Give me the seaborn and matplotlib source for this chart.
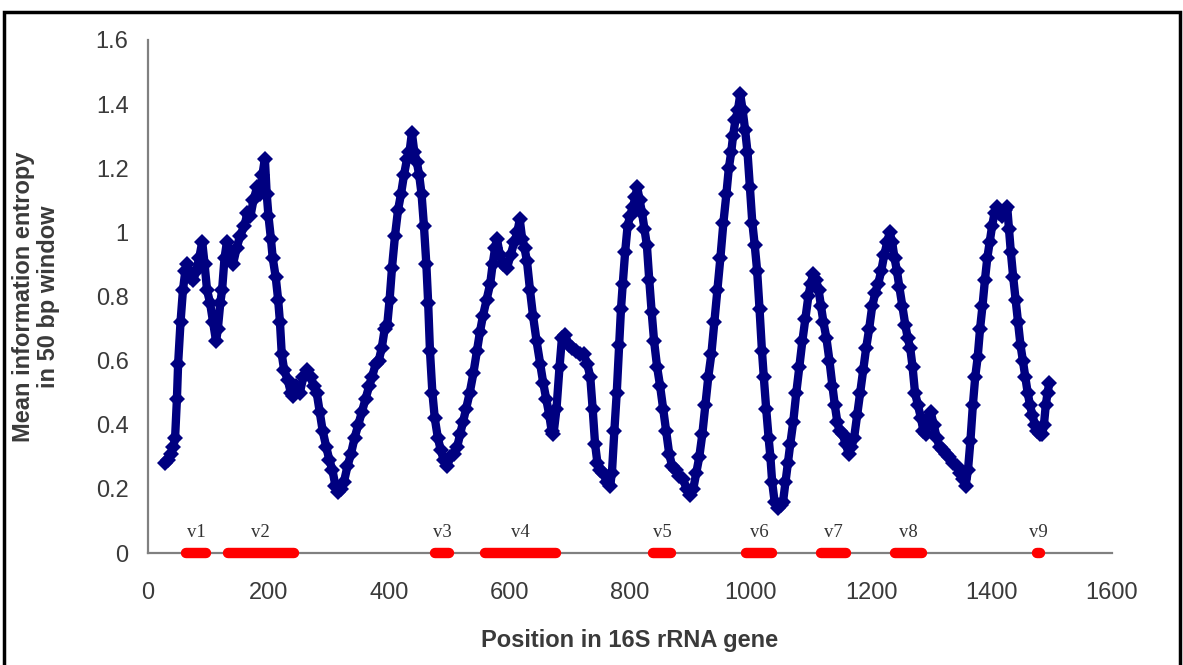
import numpy as np
import pandas as pd
import matplotlib
matplotlib.use("Agg")
import matplotlib.pyplot as plt
import matplotlib.patches as mpatches
import seaborn as sns

sns.set_style("white")
plt.rcParams['font.family'] = ['Liberation Sans', 'DejaVu Sans']

# window centre position / mean entropy
positions = [
    28, 33, 38, 42, 45, 48, 50, 54, 58, 62, 65, 70, 75, 80, 85, 90, 94, 98, 103, 108,
    113, 116, 120, 123, 127, 131, 136, 141, 147, 153, 160, 165, 170, 175, 181, 186, 190, 194, 197, 200,
    204, 207, 212, 216, 219, 222, 226, 232, 237, 241, 246, 252, 258, 264, 270, 275, 280, 285, 290, 296,
    301, 306, 311, 316, 320, 325, 331, 337, 343, 349, 355, 361, 367, 372, 378, 383, 388, 393, 397, 401,
    405, 410, 415, 420, 425, 430, 434, 438, 442, 446, 450, 454, 458, 462, 465, 468, 472, 476, 481, 486,
    491, 496, 502, 508, 513, 518, 523, 528, 534, 540, 546, 551, 556, 562, 568, 572, 576, 579, 584, 590,
    596, 602, 608, 613, 617, 621, 625, 629, 634, 639, 645, 651, 656, 661, 666, 670, 673, 678, 683, 687,
    692, 698, 704, 710, 717, 723, 729, 734, 738, 742, 746, 751, 756, 762, 767, 770, 774, 778, 782, 785,
    788, 792, 796, 800, 805, 809, 812, 816, 820, 824, 828, 832, 836, 840, 845, 850, 855, 860, 865, 870,
    876, 882, 888, 894, 900, 905, 910, 915, 920, 925, 930, 935, 940, 945, 950, 955, 960, 964, 968, 971,
    975, 979, 983, 987, 991, 995, 999, 1003, 1007, 1011, 1015, 1019, 1022, 1026, 1030, 1033, 1036, 1040, 1045, 1050,
    1054, 1058, 1062, 1066, 1071, 1076, 1081, 1086, 1091, 1096, 1100, 1104, 1109, 1113, 1117, 1121, 1126, 1131, 1136, 1140,
    1144, 1148, 1153, 1158, 1163, 1167, 1172, 1177, 1182, 1187, 1192, 1197, 1202, 1207, 1212, 1217, 1222, 1227, 1231, 1235,
    1239, 1243, 1247, 1252, 1257, 1261, 1265, 1269, 1273, 1278, 1283, 1287, 1291, 1295, 1299, 1304, 1309, 1314, 1319, 1324,
    1330, 1336, 1342, 1348, 1353, 1357, 1361, 1365, 1369, 1373, 1377, 1381, 1385, 1389, 1393, 1397, 1401, 1405, 1409, 1413,
    1418, 1422, 1426, 1429, 1432, 1436, 1440, 1444, 1448, 1452, 1456, 1460, 1464, 1468, 1472, 1476, 1480, 1484, 1487, 1490,
    1493, 1496,
]
entropy = [
    0.28, 0.29, 0.31, 0.33, 0.36, 0.48, 0.59, 0.72, 0.82, 0.88, 0.90, 0.86, 0.85, 0.88, 0.92, 0.97, 0.90, 0.82, 0.78, 0.72,
    0.66, 0.70, 0.78, 0.82, 0.92, 0.97, 0.93, 0.90, 0.95, 0.99, 1.02, 1.06, 1.05, 1.10, 1.14, 1.12, 1.18, 1.23, 1.12, 1.05,
    0.98, 0.92, 0.86, 0.79, 0.72, 0.62, 0.57, 0.54, 0.50, 0.49, 0.52, 0.50, 0.55, 0.57, 0.55, 0.52, 0.50, 0.44, 0.38, 0.33,
    0.29, 0.26, 0.21, 0.19, 0.20, 0.22, 0.27, 0.31, 0.36, 0.40, 0.44, 0.48, 0.52, 0.55, 0.59, 0.60, 0.64, 0.70, 0.71, 0.79,
    0.89, 0.99, 1.07, 1.12, 1.18, 1.23, 1.25, 1.31, 1.25, 1.22, 1.18, 1.12, 1.02, 0.90, 0.78, 0.63, 0.50, 0.42, 0.36, 0.32,
    0.29, 0.27, 0.30, 0.31, 0.33, 0.37, 0.41, 0.45, 0.50, 0.56, 0.63, 0.69, 0.74, 0.79, 0.84, 0.90, 0.95, 0.98, 0.93, 0.90,
    0.89, 0.93, 0.97, 1.00, 1.04, 0.98, 0.95, 0.91, 0.82, 0.74, 0.66, 0.59, 0.53, 0.48, 0.43, 0.38, 0.37, 0.45, 0.58, 0.67,
    0.68, 0.65, 0.64, 0.63, 0.62, 0.62, 0.59, 0.55, 0.45, 0.34, 0.28, 0.26, 0.25, 0.22, 0.21, 0.25, 0.38, 0.50, 0.65, 0.76,
    0.84, 0.94, 1.02, 1.05, 1.08, 1.11, 1.14, 1.10, 1.06, 1.01, 0.96, 0.85, 0.75, 0.66, 0.58, 0.52, 0.45, 0.38, 0.31, 0.27,
    0.26, 0.24, 0.23, 0.20, 0.18, 0.20, 0.25, 0.30, 0.37, 0.46, 0.55, 0.62, 0.72, 0.82, 0.92, 1.03, 1.12, 1.20, 1.25, 1.30,
    1.35, 1.38, 1.43, 1.38, 1.32, 1.25, 1.14, 1.03, 0.96, 0.88, 0.76, 0.63, 0.55, 0.45, 0.36, 0.30, 0.22, 0.16, 0.14, 0.15,
    0.16, 0.22, 0.28, 0.34, 0.41, 0.50, 0.58, 0.66, 0.73, 0.80, 0.84, 0.87, 0.85, 0.82, 0.77, 0.72, 0.67, 0.60, 0.52, 0.46,
    0.41, 0.38, 0.37, 0.34, 0.31, 0.33, 0.36, 0.43, 0.50, 0.57, 0.64, 0.70, 0.77, 0.81, 0.84, 0.88, 0.93, 0.97, 1.00, 0.97,
    0.92, 0.88, 0.83, 0.77, 0.71, 0.67, 0.64, 0.58, 0.50, 0.46, 0.42, 0.38, 0.37, 0.42, 0.44, 0.40, 0.36, 0.33, 0.32, 0.31,
    0.30, 0.28, 0.27, 0.25, 0.23, 0.21, 0.26, 0.35, 0.46, 0.55, 0.61, 0.70, 0.77, 0.85, 0.92, 0.97, 1.02, 1.06, 1.08, 1.06,
    1.05, 1.07, 1.08, 1.01, 0.94, 0.86, 0.79, 0.72, 0.65, 0.60, 0.55, 0.50, 0.46, 0.43, 0.40, 0.38, 0.37, 0.37, 0.40, 0.46,
    0.50, 0.53,
]

# hypervariable regions v1..v9 (start, end)
region_names = ['v1', 'v2', 'v3', 'v4', 'v5', 'v6', 'v7', 'v8', 'v9']
region_start = [63, 132, 476, 560, 838, 993, 1117, 1240, 1475]
region_end = [97, 242, 500, 677, 868, 1035, 1158, 1284, 1480]

x_ticks = [0, 200, 400, 600, 800, 1000, 1200, 1400, 1600]
y_ticks = [0, 0.2, 0.4, 0.6, 0.8, 1.0, 1.2, 1.4, 1.6]
y_tick_labels = ['0', '0.2', '0.4', '0.6', '0.8', '1', '1.2', '1.4', '1.6']

df = pd.DataFrame({'pos': positions, 'entropy': entropy})

fig = plt.figure(figsize=(11.83, 6.65), dpi=100)
ax = fig.add_axes([0.1251, 0.1684, 0.8149, 0.7716])

sns.lineplot(data=df, x='pos', y='entropy', ax=ax, color='#000080', linewidth=6,
             marker='D', markersize=8.5, markeredgewidth=0, sort=False, estimator=None)

# red bars on the axis for the variable regions
for name, s, e in zip(region_names, region_start, region_end):
    ax.plot([s, e], [0, 0], color='#ff0000', linewidth=7.5, solid_capstyle='round',
            zorder=5, clip_on=False)
    ax.text((s + e) / 2, 0.037, name, ha='center', va='bottom', fontsize=13.5,
            family=['Liberation Serif', 'DejaVu Serif'], color='#333333')

ax.set_xlim(0, 1600)
ax.set_ylim(0, 1.6)
ax.set_xticks(x_ticks)
ax.set_yticks(y_ticks)
ax.set_yticklabels(y_tick_labels)

for side in ['top', 'right']:
    ax.spines[side].set_visible(False)
for side in ['left', 'bottom']:
    ax.spines[side].set_color('#808080')
    ax.spines[side].set_linewidth(1.6)

ax.tick_params(axis='both', direction='out', length=6, width=1.5, color='#808080',
               labelsize=17, labelcolor='#3a3a3a', pad=8)
ax.tick_params(axis='x', pad=15)

ax.set_xlabel('Position in 16S rRNA gene', fontsize=17, fontweight='bold', color='#3a3a3a', labelpad=18)
ax.set_ylabel('Mean information entropy\nin 50 bp window', fontsize=17, fontweight='bold',
              color='#3a3a3a', labelpad=26, linespacing=1.1)

# black frame around the picture
frame = mpatches.Rectangle((4 / 1183, -0.02), 1176 / 1183, 1.02 - 12 / 665,
                           transform=fig.transFigure, fill=False, edgecolor='black',
                           linewidth=2.5)
fig.patches.append(frame)

fig.savefig('out.png', dpi=100)
